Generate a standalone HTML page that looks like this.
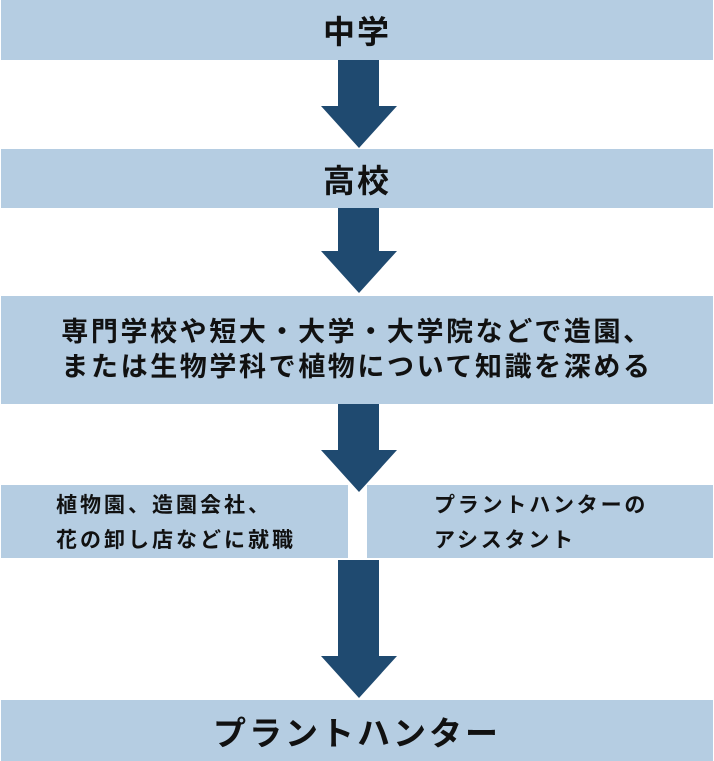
<!DOCTYPE html>
<html><head><meta charset="utf-8"><style>
body{margin:0;width:714px;height:761px;background:#fff;position:relative;overflow:hidden;font-family:"Liberation Sans","Noto Sans CJK JP",sans-serif;font-weight:bold;color:#111}
.b{position:absolute;background:#b5cde2;display:flex;align-items:center;justify-content:center;text-align:center}
.s{position:absolute;left:338px;width:41px;background:#1f4a70}
.h{position:absolute;left:321px;width:0;height:0;border-left:38px solid transparent;border-right:38px solid transparent;border-top:42px solid #1f4a70}
</style></head><body>
<div class="b" style="left:1px;top:0;width:712px;height:60px;font-size:32px;letter-spacing:2px">中学</div>
<div class="s" style="top:60px;height:47px"></div><div class="h" style="top:106px"></div>
<div class="b" style="left:1px;top:149px;width:712px;height:59px;font-size:32px;letter-spacing:2px">高校</div>
<div class="s" style="top:208px;height:44px"></div><div class="h" style="top:251px"></div>
<div class="b" style="left:1px;top:296px;width:712px;height:108px;font-size:27px;line-height:35px;letter-spacing:2.6px">専門学校や短大・大学・大学院などで造園、<br>または生物学科で植物について知識を深める</div>
<div class="s" style="top:404px;height:47px"></div>
<div class="b" style="left:1px;top:487px;width:347px;height:71px;font-size:21px;line-height:35px;justify-content:flex-start;text-align:left;padding-left:55px;box-sizing:border-box;letter-spacing:3px">植物園、造園会社、<br>花の卸し店などに就職</div>
<div class="b" style="left:367px;top:487px;width:346px;height:71px;font-size:21px;line-height:35px;justify-content:flex-start;text-align:left;padding-left:67px;box-sizing:border-box;letter-spacing:2.8px">プラントハンターの<br>アシスタント</div>
<div style="position:absolute;left:1px;top:485px;width:712px;height:2px;background:#b5cde2"></div>
<div style="position:absolute;left:348px;top:485px;width:19px;height:2px;background:#fff"></div>
<div class="h" style="top:450px"></div>
<div class="s" style="top:560px;height:97px"></div><div class="h" style="top:656px"></div>
<div class="b" style="left:1px;top:700px;width:712px;height:61px;font-size:33px;letter-spacing:3px">プラントハンター</div>
</body></html>
